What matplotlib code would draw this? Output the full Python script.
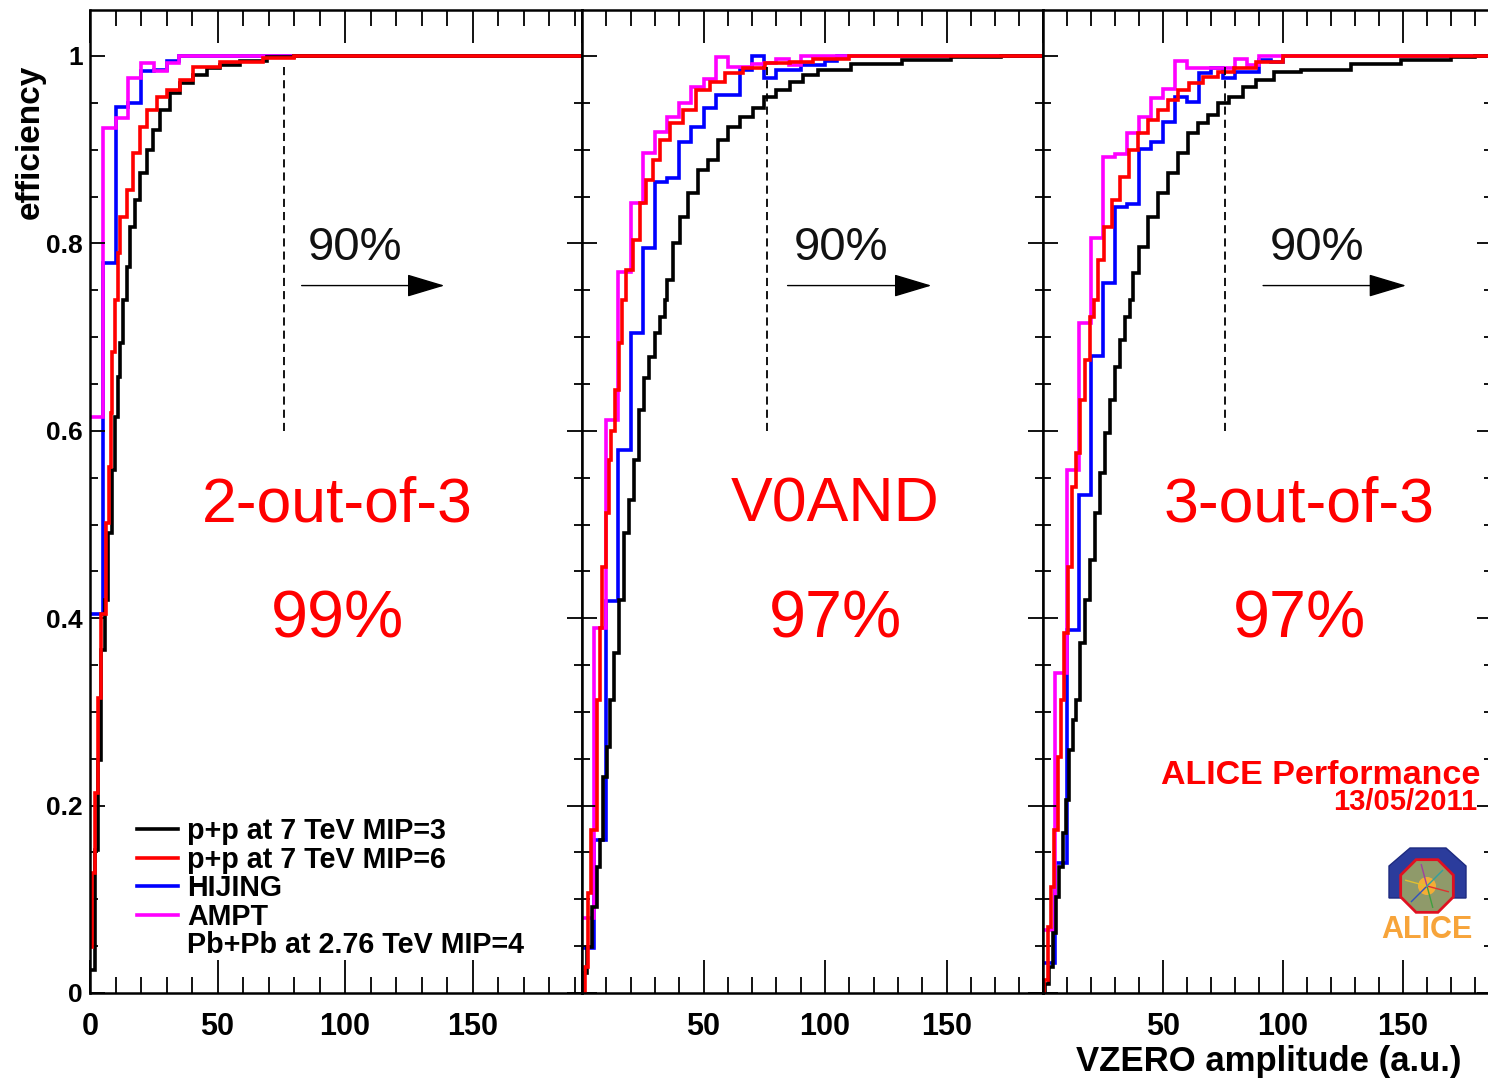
import numpy as np
import matplotlib.pyplot as plt
from matplotlib.lines import Line2D
from matplotlib.patches import Polygon, Circle
from matplotlib.ticker import MultipleLocator

plt.rcParams['font.family'] = ['Liberation Sans', 'DejaVu Sans']
plt.rcParams['font.weight'] = 'bold'

W, H = 1488, 1082

# ---------------- data ----------------
colors = ['black', '#ff0000', '#0000ff', '#ff00ff']
legend_labels = ['p+p at 7 TeV MIP=3', 'p+p at 7 TeV MIP=6', 'HIJING', 'AMPT',
                 'Pb+Pb at 2.76 TeV MIP=4']
trigger_names = ['2-out-of-3', 'V0AND', '3-out-of-3']
trigger_eff = ['99%', '97%', '97%']
bin_w = 5  # HIJING / AMPT bin width

# panel 1 : 2-out-of-3
pp3_x_1 = [0, 2.0, 3.3, 4.4, 5.9, 7.2, 8.5, 9.8, 11.0, 11.9, 13.1, 14.4, 15.7, 17.6,
           19.6, 22.2, 24.8, 27.5, 31.4, 35.3, 40.5, 45.8, 51.0, 58.8, 69.3, 80]
pp3_y_1 = [0.025, 0.153, 0.249, 0.366, 0.419, 0.491, 0.558, 0.615, 0.657, 0.694, 0.74, 0.775,
           0.818, 0.846, 0.875, 0.90, 0.921, 0.942, 0.96, 0.971, 0.98, 0.987, 0.99, 0.995,
           0.999, 1.0]
pp6_x_1 = [0, 0.8, 2.0, 3.1, 4.3, 6.3, 7.3, 8.1, 8.8, 9.7, 10.8, 11.8, 14.4, 17.0, 19.6,
           22.2, 26.1, 30.0, 35.3, 40.5, 51.0, 68.0, 80]
pp6_y_1 = [0.049, 0.128, 0.213, 0.315, 0.405, 0.502, 0.561, 0.619, 0.684, 0.74, 0.79, 0.828,
           0.857, 0.896, 0.924, 0.942, 0.956, 0.964, 0.974, 0.988, 0.994, 0.998, 1.0]
hijing_1 = [0.405, 0.779, 0.946, 0.950, 0.984, 0.985, 0.995, 1.0]
ampt_1 = [0.615, 0.923, 0.934, 0.977, 0.993, 0.984, 0.993, 1.0]

# panel 2 : V0AND
pp3_x_2 = [0, 0.5, 2.1, 4.3, 6.0, 7.3, 8.7, 10.1, 11.4, 13.1, 15.3, 17.2, 19.4, 21.3, 23.5,
           25.4, 27.6, 30.0, 32.3, 34.1, 35.0, 37.5, 40.3, 43.7, 47.8, 51.9, 56.0, 60.2,
           65.0, 70.2, 74.8, 80.0, 85.5, 91.0, 97.2, 110.9, 131.5, 152.0, 172.6]
pp3_y_2 = [0.0, 0.021, 0.049, 0.092, 0.134, 0.163, 0.23, 0.263, 0.313, 0.363, 0.419, 0.491,
           0.526, 0.569, 0.622, 0.656, 0.679, 0.704, 0.721, 0.74, 0.761, 0.80, 0.828, 0.854,
           0.878, 0.889, 0.91, 0.924, 0.935, 0.944, 0.956, 0.964, 0.972, 0.98, 0.985, 0.991,
           0.996, 0.999, 1.0]
pp6_x_2 = [0, 1.1, 2.5, 3.9, 6.0, 7.3, 8.4, 9.8, 11.2, 12.1, 13.5, 15.3, 16.3, 18.3, 21.1,
           23.8, 26.5, 29.3, 32.3, 36.4, 41.6, 47.1, 52.6, 58.8, 66.3, 75.2, 85.5, 95.0, 110.0]
pp6_y_2 = [0.0, 0.028, 0.107, 0.174, 0.313, 0.39, 0.455, 0.512, 0.569, 0.60, 0.644, 0.694,
           0.74, 0.772, 0.804, 0.843, 0.868, 0.889, 0.91, 0.928, 0.942, 0.964, 0.972, 0.982,
           0.987, 0.992, 0.994, 0.997, 1.0]
hijing_2 = [0.048, 0.163, 0.418, 0.58, 0.704, 0.795, 0.865, 0.87, 0.908, 0.924, 0.944,
            0.958, 0.958, 0.985, 1.0, 0.976, 0.985, 0.985, 0.99, 0.99, 0.995, 1.0]
ampt_2 = [0.08, 0.39, 0.611, 0.77, 0.843, 0.897, 0.919, 0.935, 0.95, 0.967, 0.975, 0.999,
          0.988, 0.988, 0.991, 0.992, 0.997, 0.99, 1.0]

# panel 3 : 3-out-of-3
pp3_x_3 = [0, 1.0, 2.4, 4.0, 5.4, 6.8, 8.2, 9.6, 11.0, 12.4, 13.8, 15.4, 17.6, 19.6, 21.8,
           23.8, 26.0, 27.9, 30.1, 32.1, 34.3, 36.3, 37.6, 40.1, 43.6, 47.8, 52.0, 56.1,
           60.3, 64.4, 68.6, 72.8, 77.6, 83.2, 88.8, 96.4, 107.5, 128.3, 149.2, 170.0, 180.0]
pp3_y_3 = [0.0, 0.01, 0.028, 0.064, 0.102, 0.134, 0.171, 0.206, 0.259, 0.291, 0.313, 0.373,
           0.419, 0.462, 0.512, 0.555, 0.598, 0.633, 0.668, 0.697, 0.721, 0.74, 0.768, 0.796,
           0.828, 0.854, 0.875, 0.896, 0.918, 0.928, 0.937, 0.95, 0.956, 0.967, 0.974, 0.983,
           0.985, 0.991, 0.996, 0.999, 1.0]
pp6_x_3 = [0, 0.5, 2.0, 3.3, 4.7, 6.1, 7.5, 8.9, 10.3, 12.1, 13.8, 15.4, 17.6, 19.6, 21.2,
           22.8, 25.6, 28.8, 32.1, 35.7, 39.5, 43.6, 47.8, 52.0, 56.1, 61.0, 66.5, 72.8,
           79.7, 88.8, 100.0]
pp6_y_3 = [0.0, 0.014, 0.07, 0.113, 0.174, 0.252, 0.313, 0.384, 0.455, 0.54, 0.576, 0.633,
           0.676, 0.721, 0.74, 0.782, 0.818, 0.846, 0.871, 0.90, 0.918, 0.932, 0.942, 0.953,
           0.964, 0.971, 0.978, 0.983, 0.987, 0.994, 1.0]
hijing_3 = [0.032, 0.139, 0.387, 0.531, 0.68, 0.758, 0.839, 0.842, 0.901, 0.908, 0.93,
            0.956, 0.951, 0.982, 0.987, 0.976, 0.983, 0.983, 0.996, 0.994, 1.0]
ampt_3 = [0.067, 0.342, 0.558, 0.715, 0.806, 0.892, 0.895, 0.918, 0.935, 0.955, 0.965,
          0.995, 0.987, 0.987, 0.987, 0.987, 0.997, 0.99, 1.0]

panels = [
    (pp3_x_1, pp3_y_1, pp6_x_1, pp6_y_1, hijing_1, ampt_1),
    (pp3_x_2, pp3_y_2, pp6_x_2, pp6_y_2, hijing_2, ampt_2),
    (pp3_x_3, pp3_y_3, pp6_x_3, pp6_y_3, hijing_3, ampt_3),
]
cut_x = [76, 76, 76]               # 90% dashed line
arrow_x = [(83, 139), (84.6, 143.8), (91.7, 151.3)]
label90_x = [104, 106.4, 114.2]
name_x = [97, 104.3, 106.7]

# ---------------- layout (pixels) ----------------
panel_px = [(90, 582), (582, 1043), (1043, 1492)]
px_per_unit = [2.55, 2.43, 2.40]
top_px, bot_px = 10, 993
ymax = (bot_px - top_px) / 937.0

fig = plt.figure(figsize=(W / 100, H / 100), dpi=100)

lw = 2.6
axes = []
for i, (l, r) in enumerate(panel_px):
    ax = fig.add_axes([l / W, 1 - bot_px / H, (r - l) / W, (bot_px - top_px) / H])
    axes.append(ax)
    xmax = (r - l) / px_per_unit[i]
    ax.set_xlim(0, xmax)
    ax.set_ylim(0, ymax)

    pp3_x, pp3_y, pp6_x, pp6_y, hij, amp = panels[i]
    ax.step(pp3_x + [xmax], pp3_y + [1.0], where='post', color=colors[0], lw=lw,
            solid_joinstyle='miter')
    ax.step(pp6_x + [xmax], pp6_y + [1.0], where='post', color=colors[1], lw=lw,
            solid_joinstyle='miter')
    for vals, c in [(hij, colors[2]), (amp, colors[3])]:
        edges = list(np.arange(len(vals) + 1) * bin_w) + [xmax]
        ax.stairs(vals + [1.0], edges, baseline=None, color=c, lw=lw)

    # 90% marker
    ax.plot([cut_x[i], cut_x[i]], [0.6, 0.993], color='black', lw=1.3, ls=(0, (4.5, 2.8)))
    ax.annotate('', xy=(arrow_x[i][1], 0.755), xytext=(arrow_x[i][0], 0.755),
                arrowprops=dict(arrowstyle='-|>,head_length=1.2,head_width=0.36',
                                color='black', lw=1, mutation_scale=20,
                                shrinkA=0, shrinkB=0))
    ax.text(label90_x[i], 0.795, '90%', fontsize=34, weight='normal', ha='center',
            va='center', color='#111111')
    ax.text(name_x[i], 0.521, trigger_names[i], fontsize=45, weight='normal',
            ha='center', va='center', color='#ff0000')
    ax.text(name_x[i], 0.398, trigger_eff[i], fontsize=48, weight='normal',
            ha='center', va='center', color='#ff0000')

    # ROOT-like frame and ticks
    for sp in ax.spines.values():
        sp.set_linewidth(1.8)
    ax.xaxis.set_major_locator(MultipleLocator(50))
    ax.xaxis.set_minor_locator(MultipleLocator(10))
    ax.yaxis.set_major_locator(MultipleLocator(0.2))
    ax.yaxis.set_minor_locator(MultipleLocator(0.05))
    ax.tick_params(which='both', direction='in', top=True, right=True, width=1.3)
    ax.tick_params(axis='x', which='major', length=24, labelsize=22, pad=14)
    ax.tick_params(axis='x', which='minor', length=11.5)
    ax.tick_params(axis='y', which='major', length=11, labelsize=19, pad=5)
    ax.tick_params(axis='y', which='minor', length=6)
    ax.set_xticks([0, 50, 100, 150])
    ax.set_yticks([0, 0.2, 0.4, 0.6, 0.8, 1.0])
    if i == 0:
        ax.set_xticklabels(['0', '50', '100', '150'])
        ax.set_yticklabels(['0', '0.2', '0.4', '0.6', '0.8', '1'])
    else:
        ax.set_xticklabels(['', '50', '100', '150'])
        ax.set_yticklabels([])

# legend in first panel
handles = [Line2D([], [], color=c, lw=lw) for c in colors] + [Line2D([], [], color='none')]
axes[0].legend(handles, legend_labels, loc='upper left', bbox_to_anchor=(137 / W, 1 - 817 / H),
               bbox_transform=fig.transFigure, frameon=False, fontsize=20.6, borderpad=0,
               borderaxespad=0, handlelength=1.43, handletextpad=0.31, labelspacing=0.02)

# axis titles
fig.text(30 / W, 1 - 65 / H, 'efficiency', rotation=90, ha='center', va='top', fontsize=24)
fig.text(1462 / W, 1 - 1062 / H, 'VZERO amplitude (a.u.)', ha='right', va='center',
         fontsize=25)

# ALICE Performance stamp
fig.text(1480 / W, 1 - 775 / H, 'ALICE Performance', ha='right', va='center',
         fontsize=24.5, color='#ff0000')
fig.text(1477 / W, 1 - 802 / H, '13/05/2011', ha='right', va='center', fontsize=21,
         color='#ff0000')

# ALICE logo (simplified)
lax = fig.add_axes([0, 0, 1, 1], facecolor='none')
lax.set_xlim(0, W)
lax.set_ylim(H, 0)
lax.axis('off')
lax.add_patch(Polygon([(1410, 848), (1446, 848), (1466, 866), (1466, 898), (1389, 898),
                       (1389, 866)], closed=True, fc='#2b3c9c', ec='#1d2a80', lw=1))
ang = np.deg2rad(22.5 + 45 * np.arange(8))
cx, cy, rr = 1427, 886, 28.5
lax.add_patch(Polygon(np.column_stack([cx + rr * np.cos(ang), cy + rr * np.sin(ang)]),
                      closed=True, fc='#8f9a6a', ec='#e01020', lw=2))
for k, c in enumerate(['#e03030', '#40a040', '#3050c0', '#e0c030', '#a040a0', '#30a0a0']):
    a = np.deg2rad(15 + 60 * k)
    lax.plot([cx, cx + 22 * np.cos(a)], [cy, cy + 22 * np.sin(a)], color=c, lw=1)
lax.add_patch(Circle((cx, cy), 9, fc='#ffb030', ec='none', alpha=0.9))
lax.text(1427, 930, 'ALICE', ha='center', va='center', fontsize=22, color='#f7a43a')

fig.savefig('out.png', dpi=100)
